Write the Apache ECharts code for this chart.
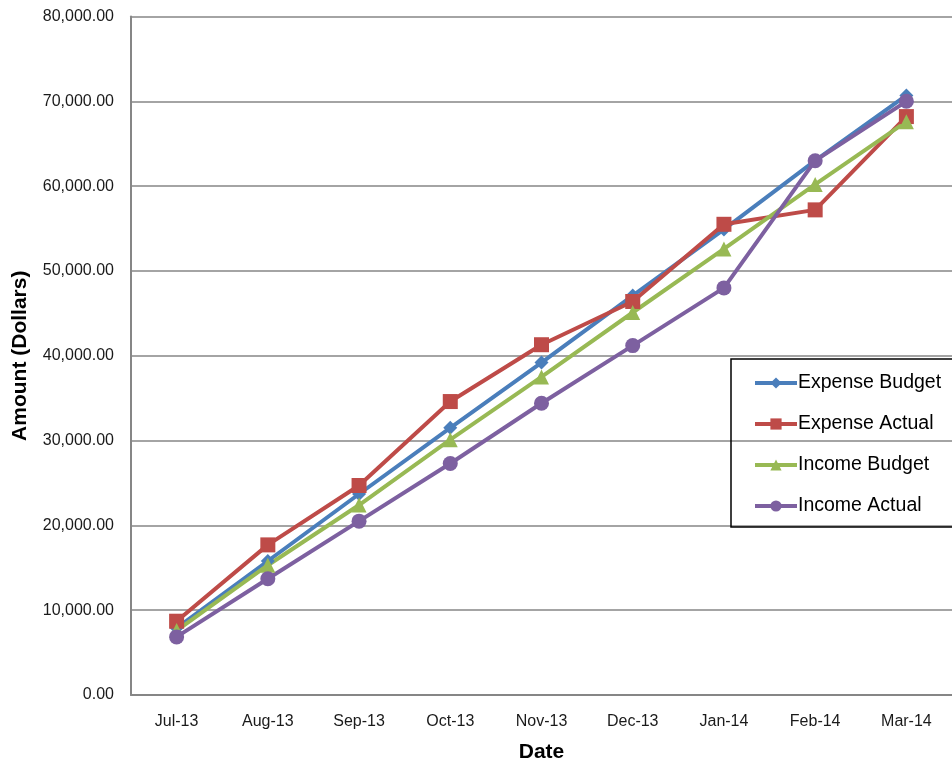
<!DOCTYPE html>
<html>
<head>
<meta charset="utf-8">
<script src="https://cdn.jsdelivr.net/npm/echarts@6/dist/echarts.min.js"></script>
<style>
  html, body { margin: 0; padding: 0; background: #fff; }
  #chart { width: 952px; height: 763px; }
</style>
</head>
<body>
<div id="chart"></div>
<script>
// data
const months = ['Jul-13', 'Aug-13', 'Sep-13', 'Oct-13', 'Nov-13', 'Dec-13', 'Jan-14', 'Feb-14', 'Mar-14'];
const expenseBudget = [7900, 15800, 23700, 31500, 39200, 47100, 54900, 63000, 70700];
const expenseActual = [8700, 17700, 24700, 34600, 41300, 46400, 55500, 57200, 68200];
const incomeBudget = [7600, 15300, 22400, 30100, 37500, 45100, 52600, 60200, 67600];
const incomeActual = [6850, 13700, 20500, 27300, 34400, 41200, 48000, 63000, 70000];

const FONT = "'Liberation Sans Narrow', 'Arial Narrow', 'Liberation Sans', sans-serif";

const chart = echarts.init(document.getElementById('chart'));

function line(name, data, color, symbol, size) {
  return {
    name: name,
    type: 'line',
    data: data,
    symbol: symbol,
    symbolSize: size,
    lineStyle: { width: 4, color: color },
    itemStyle: { color: color },
    animation: false
  };
}

const options = {
  backgroundColor: '#fff',
  textStyle: { fontFamily: FONT },
  grid: { left: 131, top: 16.5, right: 0, bottom: 68, outerBoundsMode: 'none', containLabel: false },
  xAxis: {
    type: 'category',
    data: months,
    boundaryGap: true,
    name: 'Date',
    nameLocation: 'middle',
    nameGap: 47,
    nameTextStyle: { fontFamily: FONT, fontSize: 21, fontWeight: 'bold', color: '#000' },
    axisLine: { lineStyle: { color: '#868686', width: 2 } },
    axisTick: { show: false },
    axisLabel: { fontFamily: FONT, fontSize: 16, color: '#1a1a1a', margin: 19 }
  },
  yAxis: {
    type: 'value',
    min: 0,
    max: 80000,
    interval: 10000,
    name: 'Amount (Dollars)',
    nameLocation: 'middle',
    nameGap: 100,
    nameTextStyle: { fontFamily: FONT, fontSize: 21, fontWeight: 'bold', color: '#000' },
    axisLine: { show: true, lineStyle: { color: '#868686', width: 2 } },
    axisTick: { show: false },
    splitLine: { lineStyle: { color: '#868686', width: 1.5 } },
    axisLabel: {
      fontFamily: FONT, fontSize: 16, color: '#1a1a1a', margin: 17,
      formatter: v => v.toLocaleString('en-US', { minimumFractionDigits: 2, maximumFractionDigits: 2 })
    }
  },
  legend: {
    orient: 'vertical',
    left: 748,
    top: 368,
    itemWidth: 42,
    itemHeight: 14,
    itemGap: 21,
    lineStyle: { width: 4 },
    textStyle: { fontFamily: FONT, fontSize: 19.5, color: '#000', padding: [0, 0, 0, -4] },
    data: ['Expense Budget', 'Expense Actual', 'Income Budget', 'Income Actual']
  },
  graphic: [{
    type: 'rect',
    z: 10,
    shape: { x: 731, y: 359, width: 240, height: 168 },
    style: { fill: 'none', stroke: '#000', lineWidth: 1.5 }
  }],
  series: [
    line('Expense Budget', expenseBudget, '#4a7ebb', 'diamond', 14),
    line('Expense Actual', expenseActual, '#be4b48', 'rect', 15),
    line('Income Budget', incomeBudget, '#98b954', 'triangle', 15),
    line('Income Actual', incomeActual, '#7d60a0', 'circle', 15)
  ]
};

chart.setOption(options);
</script>
</body>
</html>
